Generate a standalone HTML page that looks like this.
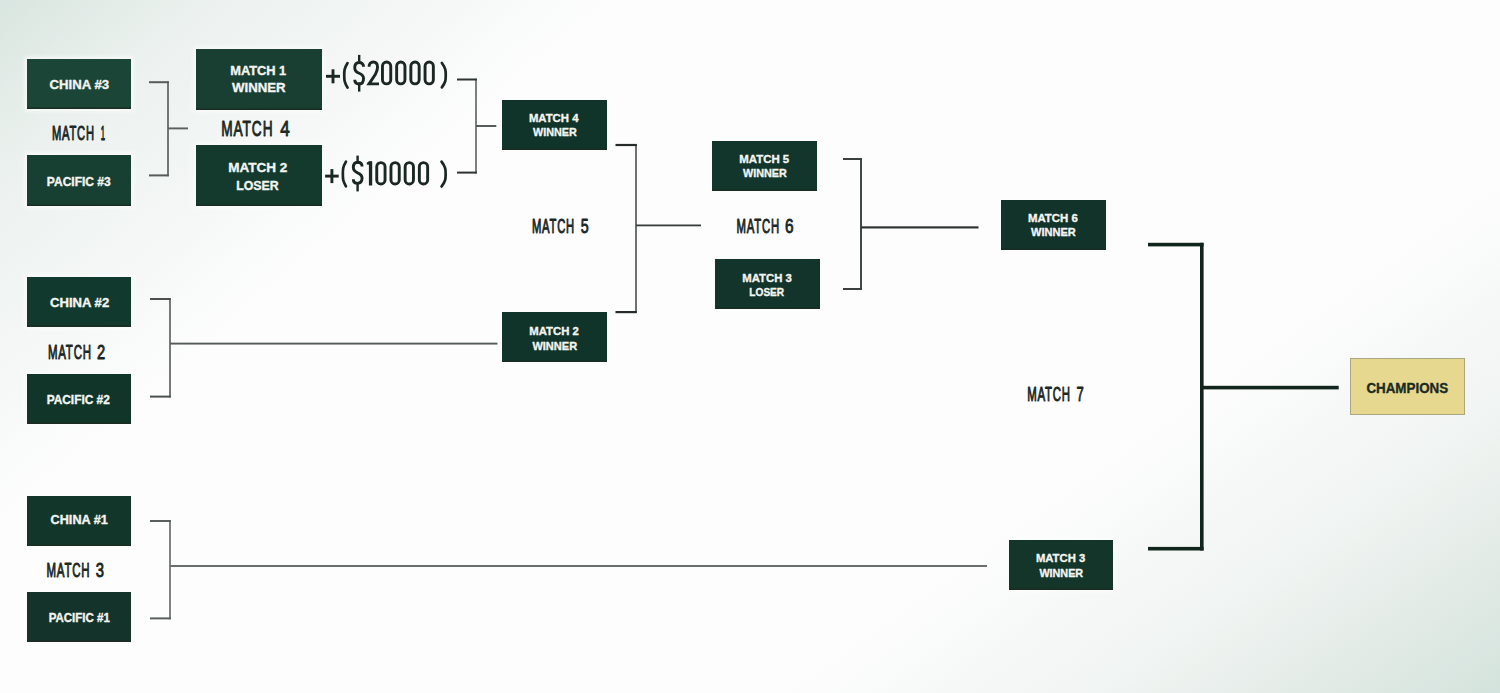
<!DOCTYPE html>
<html><head><meta charset="utf-8"><style>
html,body{margin:0;padding:0;width:1500px;height:693px;overflow:hidden;}
body{background:#fbfcfb;}
.bg{position:absolute;left:0;top:0;width:1500px;height:693px;
background:
 linear-gradient(to bottom right, #d9e5e0 0%, #e6eeea 12%, #edf2f0 19%, #f1f5f3 29%, #f9fafa 43%, rgba(253,253,253,0) 50%) left top / 612px 520px no-repeat,
 linear-gradient(to top left, #d4e3dd 0%, #e3ebe7 13.9%, #f0f4f2 27.1%, #f6f8f7 38.2%, rgba(253,253,253,0) 50%) right bottom / 720px 514px no-repeat,
 #fdfdfd;}
svg{position:absolute;left:0;top:0;}
text{font-family:"Liberation Sans",sans-serif;}
</style></head><body>
<div class="bg"></div>
<svg width="1500" height="693" viewBox="0 0 1500 693">
<defs><filter id="hb" x="-20%" y="-50%" width="140%" height="200%"><feGaussianBlur stdDeviation="2"/></filter></defs>
<rect x="25" y="57" width="108" height="54" fill="#fbfdfc" opacity="0.85" filter="url(#hb)"/>
<rect x="25" y="153" width="108" height="55" fill="#fbfdfc" opacity="0.85" filter="url(#hb)"/>
<rect x="25" y="275" width="108" height="54" fill="#fbfdfc" opacity="0.85" filter="url(#hb)"/>
<rect x="25" y="372" width="108" height="54" fill="#fbfdfc" opacity="0.85" filter="url(#hb)"/>
<rect x="25" y="494" width="108" height="54" fill="#fbfdfc" opacity="0.85" filter="url(#hb)"/>
<rect x="25" y="590" width="108" height="54" fill="#fbfdfc" opacity="0.85" filter="url(#hb)"/>
<rect x="194" y="47" width="130" height="65" fill="#fbfdfc" opacity="0.85" filter="url(#hb)"/>
<rect x="194" y="143" width="130" height="65" fill="#fbfdfc" opacity="0.85" filter="url(#hb)"/>
<rect x="500" y="98" width="109" height="54" fill="#fbfdfc" opacity="0.85" filter="url(#hb)"/>
<rect x="500" y="310" width="109" height="54" fill="#fbfdfc" opacity="0.85" filter="url(#hb)"/>
<rect x="710" y="139" width="109" height="54" fill="#fbfdfc" opacity="0.85" filter="url(#hb)"/>
<rect x="713" y="257" width="109" height="54" fill="#fbfdfc" opacity="0.85" filter="url(#hb)"/>
<rect x="999" y="198" width="109" height="54" fill="#fbfdfc" opacity="0.85" filter="url(#hb)"/>
<rect x="1007" y="538" width="108" height="54" fill="#fbfdfc" opacity="0.85" filter="url(#hb)"/>
<rect x="27" y="59" width="104" height="50" fill="#1b4637"/>
<rect x="27" y="107.5" width="104" height="1.5" fill="#1a2d22"/>
<rect x="27" y="155" width="104" height="51" fill="#173f32"/>
<rect x="27" y="204.5" width="104" height="1.5" fill="#1a2d22"/>
<rect x="27" y="277" width="104" height="50" fill="#12392d"/>
<rect x="27" y="325.5" width="104" height="1.5" fill="#1a2d22"/>
<rect x="27" y="374" width="104" height="50" fill="#12352a"/>
<rect x="27" y="422.5" width="104" height="1.5" fill="#1a2d22"/>
<rect x="27" y="496" width="104" height="50" fill="#13362b"/>
<rect x="27" y="544.5" width="104" height="1.5" fill="#1a2d22"/>
<rect x="27" y="592" width="104" height="50" fill="#14332b"/>
<rect x="27" y="640.5" width="104" height="1.5" fill="#1a2d22"/>
<rect x="196" y="49" width="126" height="61" fill="#193f33"/>
<rect x="196" y="108.5" width="126" height="1.5" fill="#1a2d22"/>
<rect x="196" y="145" width="126" height="61" fill="#133a2c"/>
<rect x="196" y="204.5" width="126" height="1.5" fill="#1a2d22"/>
<rect x="502" y="100" width="105" height="50" fill="#10332a"/>
<rect x="502" y="148.5" width="105" height="1.5" fill="#1a2d22"/>
<rect x="502" y="312" width="105" height="50" fill="#11342a"/>
<rect x="502" y="360.5" width="105" height="1.5" fill="#1a2d22"/>
<rect x="712" y="141" width="105" height="50" fill="#12362b"/>
<rect x="712" y="189.5" width="105" height="1.5" fill="#1a2d22"/>
<rect x="715" y="259" width="105" height="50" fill="#12342a"/>
<rect x="715" y="307.5" width="105" height="1.5" fill="#1a2d22"/>
<rect x="1001" y="200" width="105" height="50" fill="#11332a"/>
<rect x="1001" y="248.5" width="105" height="1.5" fill="#1a2d22"/>
<rect x="1009" y="540" width="104" height="50" fill="#13352a"/>
<rect x="1009" y="588.5" width="104" height="1.5" fill="#1a2d22"/>
<rect x="1350.5" y="358.5" width="114" height="56" fill="#e6d98f" stroke="#a9a77f" stroke-width="1"/>
<rect x="167.15" y="81.35" width="1.7" height="94.90" fill="#5c6360"/>
<rect x="168" y="127.45" width="20" height="1.9" fill="#5a605d"/>
<rect x="149" y="81.20" width="19.849999999999994" height="2.0" fill="#555c59"/>
<rect x="149" y="174.40" width="19.849999999999994" height="2.0" fill="#555c59"/>
<rect x="475.15" y="78.65" width="1.7" height="94.80" fill="#666b69"/>
<rect x="476" y="125.05" width="20.30000000000001" height="1.9" fill="#4f5451"/>
<rect x="457" y="78.50" width="19.850000000000023" height="2.0" fill="#2e3431"/>
<rect x="457" y="171.60" width="19.850000000000023" height="2.0" fill="#2e3431"/>
<rect x="635.20" y="144.20" width="1.6" height="168.70" fill="#4a504d"/>
<rect x="636" y="224.50" width="65" height="1.8" fill="#3a3f3d"/>
<rect x="615.5" y="143.90" width="21.299999999999955" height="2.2" fill="#262c29"/>
<rect x="615.5" y="311.00" width="21.299999999999955" height="2.2" fill="#262c29"/>
<rect x="860.05" y="158.05" width="1.9" height="131.90" fill="#3a403d"/>
<rect x="861" y="226.30" width="117.5" height="2.2" fill="#2f3532"/>
<rect x="843" y="158.00" width="18.950000000000045" height="2.0" fill="#3a403d"/>
<rect x="843" y="288.00" width="18.950000000000045" height="2.0" fill="#3a403d"/>
<rect x="169.15" y="298.15" width="1.7" height="99.30" fill="#5f6462"/>
<rect x="170" y="342.65" width="327.4" height="1.9" fill="#555b58"/>
<rect x="150" y="298.00" width="20.849999999999994" height="2.0" fill="#4a504d"/>
<rect x="150" y="395.60" width="20.849999999999994" height="2.0" fill="#4a504d"/>
<rect x="169.15" y="520.15" width="1.7" height="99.10" fill="#6a6f6d"/>
<rect x="170" y="565.00" width="817" height="2.0" fill="#6a6f6d"/>
<rect x="150" y="520.00" width="20.849999999999994" height="2.0" fill="#5a605d"/>
<rect x="150" y="617.40" width="20.849999999999994" height="2.0" fill="#5a605d"/>
<rect x="1200.00" y="242.80" width="3.6" height="307.70" fill="#10261d"/>
<rect x="1201.8" y="385.80" width="136.9000000000001" height="3.6" fill="#10261d"/>
<rect x="1148" y="242.80" width="55.59999999999991" height="3.6" fill="#10261d"/>
<rect x="1148" y="546.90" width="55.59999999999991" height="3.6" fill="#10261d"/>
<text transform="translate(49.59 88.65) scale(1.0667 1)" font-size="12.37" font-weight="bold" fill="#f3f5f1" stroke="#f3f5f1" stroke-width="0.35" vector-effect="non-scaling-stroke" stroke-linejoin="round">CHINA #3</text>
<text transform="translate(46.85 186.05) scale(0.9707 1)" font-size="12.37" font-weight="bold" fill="#f3f5f1" stroke="#f3f5f1" stroke-width="0.35" vector-effect="non-scaling-stroke" stroke-linejoin="round">PACIFIC #3</text>
<text transform="translate(49.99 307.25) scale(1.0595 1)" font-size="12.37" font-weight="bold" fill="#f3f5f1" stroke="#f3f5f1" stroke-width="0.35" vector-effect="non-scaling-stroke" stroke-linejoin="round">CHINA #2</text>
<text transform="translate(46.66 404.05) scale(0.9614 1)" font-size="12.37" font-weight="bold" fill="#f3f5f1" stroke="#f3f5f1" stroke-width="0.35" vector-effect="non-scaling-stroke" stroke-linejoin="round">PACIFIC #2</text>
<text transform="translate(50.60 524.05) scale(1.0236 1)" font-size="12.37" font-weight="bold" fill="#f3f5f1" stroke="#f3f5f1" stroke-width="0.35" vector-effect="non-scaling-stroke" stroke-linejoin="round">CHINA #1</text>
<text transform="translate(48.68 622.25) scale(0.9305 1)" font-size="12.37" font-weight="bold" fill="#f3f5f1" stroke="#f3f5f1" stroke-width="0.35" vector-effect="non-scaling-stroke" stroke-linejoin="round">PACIFIC #1</text>
<text transform="translate(230.20 75.15) scale(0.9709 1)" font-size="13.23" font-weight="bold" fill="#f3f5f1" stroke="#f3f5f1" stroke-width="0.35" vector-effect="non-scaling-stroke" stroke-linejoin="round">MATCH 1</text>
<text transform="translate(232.00 92.35) scale(1.0003 1)" font-size="13.23" font-weight="bold" fill="#f3f5f1" stroke="#f3f5f1" stroke-width="0.35" vector-effect="non-scaling-stroke" stroke-linejoin="round">WINNER</text>
<text transform="translate(228.15 172.35) scale(1.0239 1)" font-size="13.23" font-weight="bold" fill="#f3f5f1" stroke="#f3f5f1" stroke-width="0.35" vector-effect="non-scaling-stroke" stroke-linejoin="round">MATCH 2</text>
<text transform="translate(236.23 189.85) scale(0.9307 1)" font-size="13.23" font-weight="bold" fill="#f3f5f1" stroke="#f3f5f1" stroke-width="0.35" vector-effect="non-scaling-stroke" stroke-linejoin="round">LOSER</text>
<text transform="translate(528.89 121.95) scale(0.9622 1)" font-size="11.80" font-weight="bold" fill="#f3f5f1" stroke="#f3f5f1" stroke-width="0.35" vector-effect="non-scaling-stroke" stroke-linejoin="round">MATCH 4</text>
<text transform="translate(533.00 136.15) scale(0.9151 1)" font-size="11.80" font-weight="bold" fill="#f3f5f1" stroke="#f3f5f1" stroke-width="0.35" vector-effect="non-scaling-stroke" stroke-linejoin="round">WINNER</text>
<text transform="translate(529.29 335.35) scale(0.9613 1)" font-size="11.80" font-weight="bold" fill="#f3f5f1" stroke="#f3f5f1" stroke-width="0.35" vector-effect="non-scaling-stroke" stroke-linejoin="round">MATCH 2</text>
<text transform="translate(532.40 349.65) scale(0.9361 1)" font-size="11.80" font-weight="bold" fill="#f3f5f1" stroke="#f3f5f1" stroke-width="0.35" vector-effect="non-scaling-stroke" stroke-linejoin="round">WINNER</text>
<text transform="translate(739.28 163.15) scale(0.9692 1)" font-size="11.80" font-weight="bold" fill="#f3f5f1" stroke="#f3f5f1" stroke-width="0.35" vector-effect="non-scaling-stroke" stroke-linejoin="round">MATCH 5</text>
<text transform="translate(743.00 177.45) scale(0.9151 1)" font-size="11.80" font-weight="bold" fill="#f3f5f1" stroke="#f3f5f1" stroke-width="0.35" vector-effect="non-scaling-stroke" stroke-linejoin="round">WINNER</text>
<text transform="translate(742.29 281.95) scale(0.9613 1)" font-size="11.80" font-weight="bold" fill="#f3f5f1" stroke="#f3f5f1" stroke-width="0.35" vector-effect="non-scaling-stroke" stroke-linejoin="round">MATCH 3</text>
<text transform="translate(749.37 296.15) scale(0.8564 1)" font-size="11.80" font-weight="bold" fill="#f3f5f1" stroke="#f3f5f1" stroke-width="0.35" vector-effect="non-scaling-stroke" stroke-linejoin="round">LOSER</text>
<text transform="translate(1027.88 221.95) scale(0.9692 1)" font-size="11.80" font-weight="bold" fill="#f3f5f1" stroke="#f3f5f1" stroke-width="0.35" vector-effect="non-scaling-stroke" stroke-linejoin="round">MATCH 6</text>
<text transform="translate(1031.00 236.35) scale(0.9361 1)" font-size="11.80" font-weight="bold" fill="#f3f5f1" stroke="#f3f5f1" stroke-width="0.35" vector-effect="non-scaling-stroke" stroke-linejoin="round">WINNER</text>
<text transform="translate(1035.89 562.15) scale(0.9574 1)" font-size="11.80" font-weight="bold" fill="#f3f5f1" stroke="#f3f5f1" stroke-width="0.35" vector-effect="non-scaling-stroke" stroke-linejoin="round">MATCH 3</text>
<text transform="translate(1039.40 576.65) scale(0.9151 1)" font-size="11.80" font-weight="bold" fill="#f3f5f1" stroke="#f3f5f1" stroke-width="0.35" vector-effect="non-scaling-stroke" stroke-linejoin="round">WINNER</text>
<text transform="translate(1366.38 393.20) scale(0.9145 1)" font-size="14.65" font-weight="bold" fill="#1d2a22" stroke="#1d2a22" stroke-width="0.35" vector-effect="non-scaling-stroke" stroke-linejoin="round">CHAMPIONS</text>
<text transform="translate(51.93 140.30) scale(0.5464 1)" font-size="20.48" font-weight="normal" fill="#1b2723" letter-spacing="1.434" stroke="#1b2723" stroke-width="0.8" vector-effect="non-scaling-stroke" stroke-linejoin="round">MATCH</text>
<text transform="translate(100.82 140.30) scale(0.3772 1)" font-size="20.48" font-weight="normal" fill="#1b2723" stroke="#1b2723" stroke-width="0.8" vector-effect="non-scaling-stroke" stroke-linejoin="round">1</text>
<text transform="translate(221.13 135.60) scale(0.6170 1)" font-size="22.19" font-weight="normal" fill="#1b2723" letter-spacing="1.553" stroke="#1b2723" stroke-width="0.8" vector-effect="non-scaling-stroke" stroke-linejoin="round">MATCH</text>
<text transform="translate(280.33 135.60) scale(0.7692 1)" font-size="22.19" font-weight="normal" fill="#1b2723" stroke="#1b2723" stroke-width="0.8" vector-effect="non-scaling-stroke" stroke-linejoin="round">4</text>
<text transform="translate(47.90 358.80) scale(0.5485 1)" font-size="20.91" font-weight="normal" fill="#1b2723" letter-spacing="1.463" stroke="#1b2723" stroke-width="0.8" vector-effect="non-scaling-stroke" stroke-linejoin="round">MATCH</text>
<text transform="translate(96.91 358.80) scale(0.7041 1)" font-size="20.91" font-weight="normal" fill="#1b2723" stroke="#1b2723" stroke-width="0.8" vector-effect="non-scaling-stroke" stroke-linejoin="round">2</text>
<text transform="translate(46.40 577.30) scale(0.5536 1)" font-size="20.76" font-weight="normal" fill="#1b2723" letter-spacing="1.454" stroke="#1b2723" stroke-width="0.8" vector-effect="non-scaling-stroke" stroke-linejoin="round">MATCH</text>
<text transform="translate(95.64 577.30) scale(0.7159 1)" font-size="20.76" font-weight="normal" fill="#1b2723" stroke="#1b2723" stroke-width="0.8" vector-effect="non-scaling-stroke" stroke-linejoin="round">3</text>
<text transform="translate(531.92 233.10) scale(0.5569 1)" font-size="20.20" font-weight="normal" fill="#1b2723" letter-spacing="1.414" stroke="#1b2723" stroke-width="0.8" vector-effect="non-scaling-stroke" stroke-linejoin="round">MATCH</text>
<text transform="translate(580.65 233.10) scale(0.7054 1)" font-size="20.20" font-weight="normal" fill="#1b2723" stroke="#1b2723" stroke-width="0.8" vector-effect="non-scaling-stroke" stroke-linejoin="round">5</text>
<text transform="translate(736.61 233.10) scale(0.5532 1)" font-size="20.48" font-weight="normal" fill="#1b2723" letter-spacing="1.434" stroke="#1b2723" stroke-width="0.8" vector-effect="non-scaling-stroke" stroke-linejoin="round">MATCH</text>
<text transform="translate(785.08 233.10) scale(0.7500 1)" font-size="20.48" font-weight="normal" fill="#1b2723" stroke="#1b2723" stroke-width="0.8" vector-effect="non-scaling-stroke" stroke-linejoin="round">6</text>
<text transform="translate(1027.21 400.90) scale(0.5573 1)" font-size="20.48" font-weight="normal" fill="#1b2723" letter-spacing="1.434" stroke="#1b2723" stroke-width="0.8" vector-effect="non-scaling-stroke" stroke-linejoin="round">MATCH</text>
<text transform="translate(1076.59 400.90) scale(0.6354 1)" font-size="20.48" font-weight="normal" fill="#1b2723" stroke="#1b2723" stroke-width="0.8" vector-effect="non-scaling-stroke" stroke-linejoin="round">7</text>
<rect x="326.00" y="74.85" width="14.00" height="2.9" fill="#1b2723"/>
<rect x="331.55" y="69.30" width="2.9" height="14.00" fill="#1b2723"/>
<path d="M347.55 63.05 C344.25 68.46 344.25 70.43 344.25 75.35 C344.25 80.27 344.25 82.24 347.55 87.65" fill="none" stroke="#1b2723" stroke-width="2.7" stroke-linecap="round"/>
<path d="M363.55 66.83 C363.55 63.83 361.61 62.55 359.20 62.55 C356.51 62.55 354.75 64.26 354.75 67.90 C354.75 70.68 356.07 71.97 359.20 73.25 C362.23 74.53 363.55 75.82 363.55 78.60 C363.55 82.24 361.79 83.95 359.20 83.95 C356.69 83.95 354.75 82.67 354.75 79.67" fill="none" stroke="#1b2723" stroke-width="2.9"/>
<rect x="358.00" y="54.90" width="2.4" height="9.10" fill="#1b2723"/>
<rect x="358.00" y="82.50" width="2.4" height="9.10" fill="#1b2723"/>
<path d="M369.05 66.85 C369.05 63.79 370.75 62.05 373.30 62.05 C375.85 62.05 377.55 63.79 377.55 67.28 C377.55 69.90 376.70 71.64 375.43 74.26 L369.05 83.85 L379.00 83.85" fill="none" stroke="#1b2723" stroke-width="2.9" stroke-linejoin="miter"/>
<rect x="382.45" y="62.05" width="8.30" height="21.80" rx="4.15" ry="4.15" fill="none" stroke="#1b2723" stroke-width="2.9"/>
<rect x="396.65" y="62.05" width="8.30" height="21.80" rx="4.15" ry="4.15" fill="none" stroke="#1b2723" stroke-width="2.9"/>
<rect x="410.85" y="62.05" width="8.30" height="21.80" rx="4.15" ry="4.15" fill="none" stroke="#1b2723" stroke-width="2.9"/>
<rect x="425.05" y="62.05" width="8.30" height="21.80" rx="4.15" ry="4.15" fill="none" stroke="#1b2723" stroke-width="2.9"/>
<path d="M441.85 63.05 C445.75 68.40 445.75 70.34 445.75 75.20 C445.75 80.06 445.75 82.00 441.85 87.35" fill="none" stroke="#1b2723" stroke-width="2.7" stroke-linecap="round"/>
<rect x="325.10" y="174.65" width="13.60" height="2.9" fill="#1b2723"/>
<rect x="330.45" y="169.10" width="2.9" height="14.00" fill="#1b2723"/>
<path d="M345.95 161.65 C342.85 167.11 342.85 169.09 342.85 174.05 C342.85 179.01 342.85 180.99 345.95 186.45" fill="none" stroke="#1b2723" stroke-width="2.7" stroke-linecap="round"/>
<path d="M362.05 166.47 C362.05 163.52 360.14 162.25 357.60 162.25 C355.09 162.25 353.35 163.94 353.35 167.53 C353.35 170.27 354.65 171.53 357.60 172.80 C360.75 174.07 362.05 175.33 362.05 178.08 C362.05 181.66 360.31 183.35 357.60 183.35 C355.26 183.35 353.35 182.08 353.35 179.13" fill="none" stroke="#1b2723" stroke-width="2.9"/>
<rect x="356.40" y="155.60" width="2.4" height="8.10" fill="#1b2723"/>
<rect x="356.40" y="181.90" width="2.4" height="9.50" fill="#1b2723"/>
<rect x="368.90" y="161.20" width="3.30" height="24.30" fill="#1b2723"/>
<path d="M366.80 162.40 L369.20 161.20 L369.20 164.80 L366.80 164.60Z" fill="#1b2723"/>
<rect x="376.75" y="162.65" width="8.30" height="21.40" rx="4.15" ry="4.15" fill="none" stroke="#1b2723" stroke-width="2.9"/>
<rect x="390.95" y="162.65" width="8.30" height="21.40" rx="4.15" ry="4.15" fill="none" stroke="#1b2723" stroke-width="2.9"/>
<rect x="405.15" y="162.65" width="8.30" height="21.40" rx="4.15" ry="4.15" fill="none" stroke="#1b2723" stroke-width="2.9"/>
<rect x="419.35" y="162.65" width="8.30" height="21.40" rx="4.15" ry="4.15" fill="none" stroke="#1b2723" stroke-width="2.9"/>
<path d="M441.55 161.65 C445.65 167.11 445.65 169.09 445.65 174.05 C445.65 179.01 445.65 180.99 441.55 186.45" fill="none" stroke="#1b2723" stroke-width="2.7" stroke-linecap="round"/>
</svg>
</body></html>
